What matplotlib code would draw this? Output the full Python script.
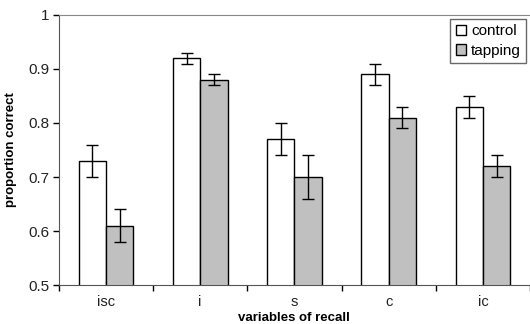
import numpy as np
import matplotlib
matplotlib.use("Agg")
import matplotlib.pyplot as plt

plt.rcParams['font.family'] = ['Liberation Sans', 'DejaVu Sans']

categories = ["isc", "i", "s", "c", "ic"]
control = [0.73, 0.92, 0.77, 0.89, 0.83]
control_err = [0.03, 0.01, 0.03, 0.02, 0.02]
tapping = [0.61, 0.88, 0.70, 0.81, 0.72]
tapping_err = [0.03, 0.01, 0.04, 0.02, 0.02]
yticks = [0.5, 0.6, 0.7, 0.8, 0.9, 1]

fig = plt.figure(figsize=(5.3, 3.24), dpi=100)
ax = fig.add_axes([0.111, 0.120, 0.889, 0.834])

x = np.arange(len(categories))
w = 0.29
err_kw = dict(ecolor="black", elinewidth=1, capsize=4, capthick=1)
ax.bar(x - w / 2, control, w, color="white", edgecolor="black", linewidth=1,
       yerr=control_err, error_kw=err_kw, label="control")
ax.bar(x + w / 2, tapping, w, color="#c0c0c0", edgecolor="black", linewidth=1,
       yerr=tapping_err, error_kw=err_kw, label="tapping")

ax.set_xlim(-0.5, len(categories) - 0.5)
ax.set_ylim(0.5, 1.0)
ax.set_yticks(yticks)
ax.set_yticklabels([f"{t:g}" for t in yticks], fontsize=11, color="#222222")
ax.set_xticks(x)
ax.set_xticklabels(categories, fontsize=10.5, color="#222222")
ax.set_xticks(np.arange(len(categories) + 1) - 0.5, minor=True)
ax.tick_params(axis="x", which="major", length=0, pad=7)
ax.tick_params(axis="x", which="minor", length=4, direction="out", width=1)
ax.tick_params(axis="y", length=4, direction="out", width=1, pad=3)

ax.spines["right"].set_visible(False)
ax.spines["top"].set_color("#888888")
ax.spines["left"].set_color("#555555")
ax.spines["bottom"].set_color("#555555")

ax.set_ylabel("proportion correct", fontsize=9.5, fontweight="bold", labelpad=8)
ax.set_xlabel("variables of recall", fontsize=9.5, fontweight="bold", labelpad=2)

leg = ax.legend(loc="upper right", bbox_to_anchor=(0.992, 0.985), fontsize=11,
                frameon=True, fancybox=False, handlelength=0.7, handleheight=0.7,
                handletextpad=0.3, borderpad=0.35, labelspacing=0.35, borderaxespad=0)
leg.get_frame().set_edgecolor("#444444")
leg.get_frame().set_linewidth(1)

fig.savefig("out.png", dpi=100)
